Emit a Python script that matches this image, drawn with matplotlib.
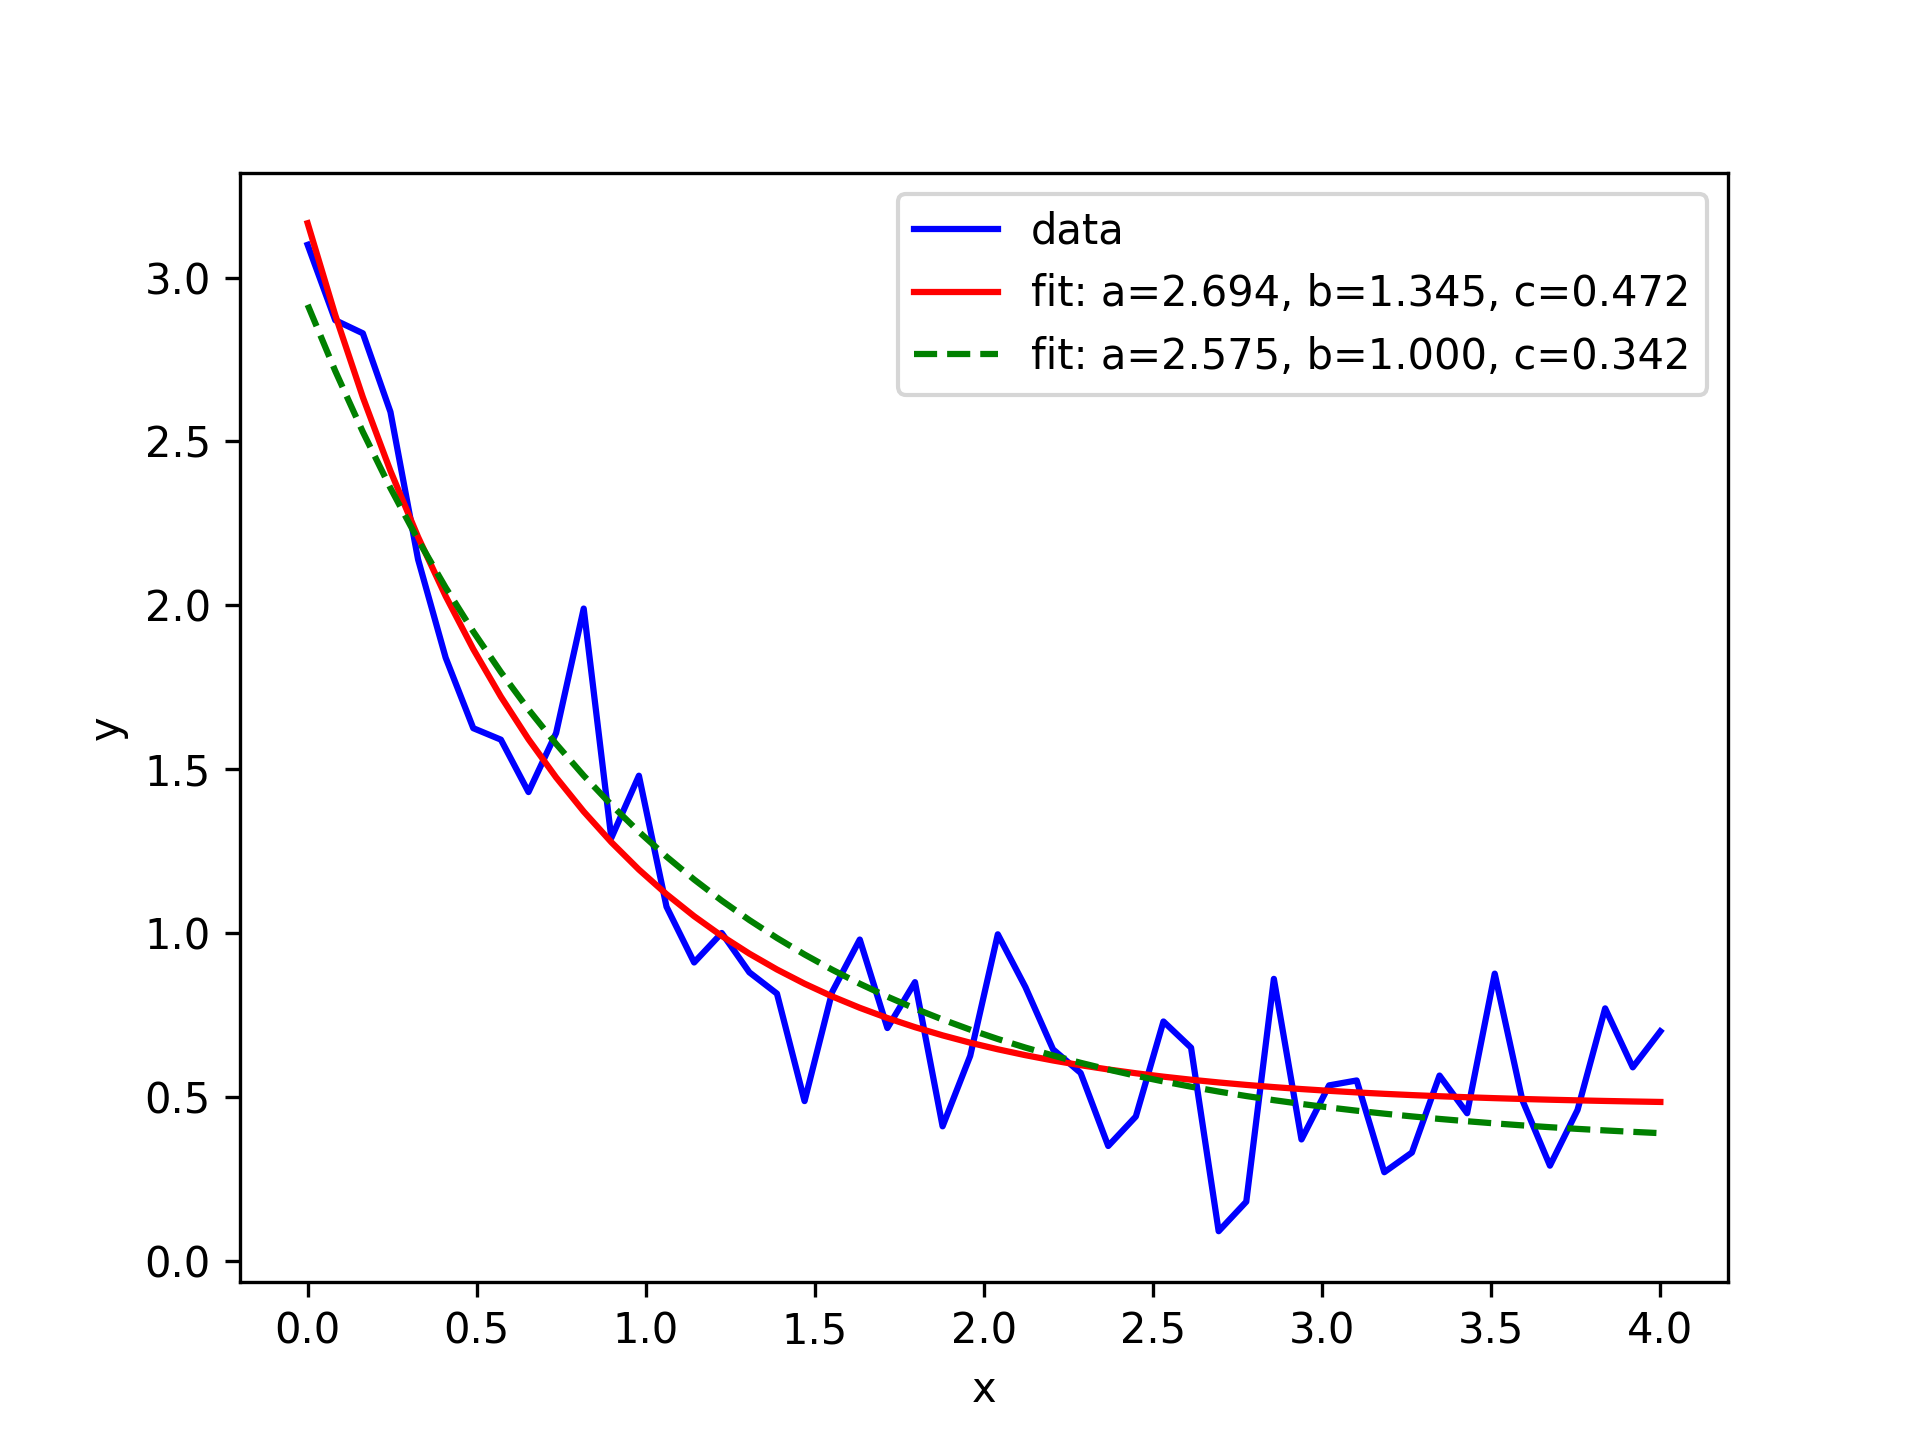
import numpy as np
import matplotlib
matplotlib.use("Agg")
import matplotlib.pyplot as plt

# x positions: 50 evenly spaced samples on [0, 4]
x_start, x_stop, n_points = 0.0, 4.0, 50
xdata = np.linspace(x_start, x_stop, n_points)

# noisy data values
ydata = [3.10, 2.87, 2.83, 2.59, 2.14, 1.84, 1.625, 1.59, 1.43, 1.61,
         1.99, 1.29, 1.48, 1.08, 0.91, 1.00, 0.88, 0.815, 0.487, 0.82,
         0.98, 0.71, 0.85, 0.41, 0.625, 0.996, 0.835, 0.645, 0.573, 0.35,
         0.44, 0.73, 0.65, 0.09, 0.18, 0.86, 0.37, 0.535, 0.55, 0.27,
         0.33, 0.565, 0.45, 0.876, 0.49, 0.29, 0.46, 0.77, 0.59, 0.70]

# fitted parameters shown in the legend
fit1 = (2.694, 1.345, 0.472)
fit2 = (2.575, 1.000, 0.342)


def func(x, a, b, c):
    return a * np.exp(-b * x) + c


fig = plt.figure(figsize=(6.4, 4.8), dpi=300)
ax = fig.add_subplot(111)
ax.plot(xdata, ydata, 'b-', label='data')
ax.plot(xdata, func(xdata, *fit1), 'r-',
        label='fit: a=%5.3f, b=%5.3f, c=%5.3f' % fit1)
ax.plot(xdata, func(xdata, *fit2), 'g--',
        label='fit: a=%5.3f, b=%5.3f, c=%5.3f' % fit2)
ax.set_xlabel('x')
ax.set_ylabel('y')
ax.legend(loc='upper right')
fig.savefig('out.png', dpi=300)
